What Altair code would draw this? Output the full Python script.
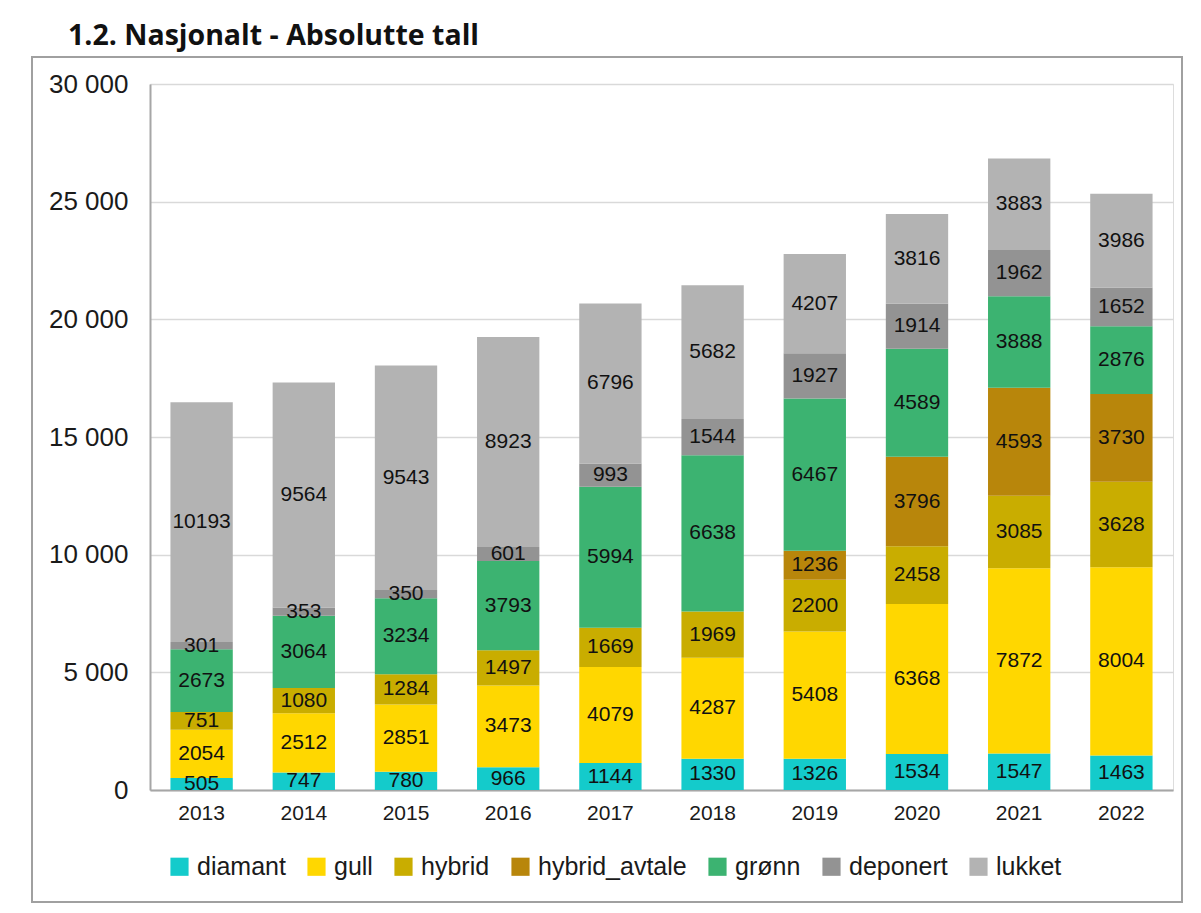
import altair as alt
import pandas as pd

years = ["2013", "2014", "2015", "2016", "2017", "2018", "2019", "2020", "2021", "2022"]
categories = ["diamant", "gull", "hybrid", "hybrid_avtale", "grønn", "deponert", "lukket"]
colors = ["#14CBCB", "#FFD700", "#C9AD00", "#B8860B", "#3CB371", "#939393", "#B3B3B3"]

diamant = [505, 747, 780, 966, 1144, 1330, 1326, 1534, 1547, 1463]
gull = [2054, 2512, 2851, 3473, 4079, 4287, 5408, 6368, 7872, 8004]
hybrid = [751, 1080, 1284, 1497, 1669, 1969, 2200, 2458, 3085, 3628]
hybrid_avtale = [0, 0, 0, 0, 0, 0, 1236, 3796, 4593, 3730]
gronn = [2673, 3064, 3234, 3793, 5994, 6638, 6467, 4589, 3888, 2876]
deponert = [301, 353, 350, 601, 993, 1544, 1927, 1914, 1962, 1652]
lukket = [10193, 9564, 9543, 8923, 6796, 5682, 4207, 3816, 3883, 3986]

series = [diamant, gull, hybrid, hybrid_avtale, gronn, deponert, lukket]
rows = []
for ci, (cat, vals) in enumerate(zip(categories, series)):
    for y, v in zip(years, vals):
        rows.append({"year": y, "kategori": cat, "order": ci, "value": v})
df = pd.DataFrame(rows)

FONT = "Liberation Sans"

base = alt.Chart(df).transform_window(
    cum="sum(value)", groupby=["year"], sort=[alt.SortField("order")]
).transform_calculate(
    mid="datum.cum - datum.value / 2", lo="datum.cum - datum.value"
)

bars = base.mark_bar().encode(
    x=alt.X("year:N", title=None, scale=alt.Scale(paddingInner=0.39, paddingOuter=0.2),
            axis=alt.Axis(labelAngle=0, labelFontSize=21, labelFont=FONT, labelColor="#1a1a1a",
                          ticks=False, labelPadding=12, domainColor="#a6a6a6", domainWidth=2)),
    y=alt.Y("lo:Q", title=None, scale=alt.Scale(domain=[0, 30000], nice=False),
            axis=alt.Axis(values=[0, 5000, 10000, 15000, 20000, 25000, 30000],
                          labelExpr="replace(format(datum.value, ','), ',', ' ')",
                          labelFontSize=26, labelFont=FONT, labelColor="#1a1a1a",
                          ticks=False, labelPadding=22, domainColor="#a6a6a6", domainWidth=2,
                          grid=True, gridColor="#d9d9d9", gridWidth=1.5)),
    y2="cum:Q",
    color=alt.Color("kategori:N", scale=alt.Scale(domain=categories, range=colors),
                    legend=alt.Legend(title=None, orient="none", direction="horizontal",
                                      legendX=17, legendY=770, symbolType="square",
                                      symbolSize=330, symbolStrokeWidth=0, symbolOpacity=1,
                                      labelFontSize=25, labelFont=FONT, labelColor="#1a1a1a",
                                      labelOffset=5, columnPadding=18)),
)

labels = base.transform_filter("datum.value > 0").mark_text(
    fontSize=21, font=FONT, color="#111111", baseline="middle"
).encode(
    x="year:N",
    y="mid:Q",
    text="value:Q",
)

frame = alt.Chart(pd.DataFrame({"f": [0]})).mark_rect(
    fill=None, stroke="#a0a0a0", strokeWidth=2
).encode(
    x=alt.value(-118), x2=alt.value(1032), y=alt.value(-27), y2=alt.value(818)
)

chart = (frame + bars + labels).properties(
    width=1023, height=706,
    title=alt.TitleParams("1.2. Nasjonalt - Absolutte tall", anchor="start", frame="group",
                          dx=-82, offset=6, fontSize=28.5, font="Open Sans", fontWeight="bold",
                          color="#111111"),
    padding={"left": 142, "top": 76, "right": 18, "bottom": 114},
    autosize=alt.AutoSizeParams(type="none"),
).configure_view(stroke=None).configure(background="white")

chart.save("out.html", embed_options={"renderer": "svg", "actions": False})
